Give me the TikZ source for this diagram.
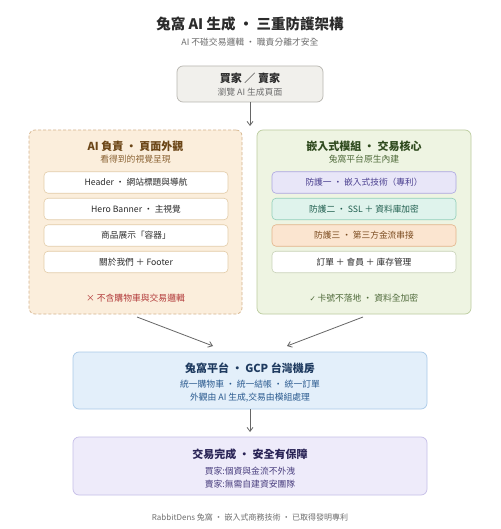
\documentclass[tikz,border=0pt]{standalone}
\usepackage{fontspec}
\setmainfont{Noto Sans CJK TC}
\newfontfamily\symfont{DejaVu Sans}
\usetikzlibrary{arrows.meta}
\definecolor{topfill}{HTML}{F1F0EC}
\definecolor{topdraw}{HTML}{B8B6B0}
\definecolor{lfill}{HTML}{FBEEDC}
\definecolor{ldraw}{HTML}{D6B58E}
\definecolor{linner}{HTML}{E3CCA8}
\definecolor{ltitle}{HTML}{6B4516}
\definecolor{lsub}{HTML}{8A6232}
\definecolor{redt}{HTML}{B23A3A}
\definecolor{rfill}{HTML}{EEF4E2}
\definecolor{rdraw}{HTML}{BBCC9E}
\definecolor{rtitle}{HTML}{2F4A1E}
\definecolor{rsub}{HTML}{4F6A3A}
\definecolor{p1fill}{HTML}{E8E6F8}
\definecolor{p1draw}{HTML}{ABA5E0}
\definecolor{p1text}{HTML}{4A3F8F}
\definecolor{p2fill}{HTML}{DFF3EC}
\definecolor{p2draw}{HTML}{93CFBA}
\definecolor{p2text}{HTML}{1F5E4E}
\definecolor{p3fill}{HTML}{FBE5D0}
\definecolor{p3draw}{HTML}{E2B48A}
\definecolor{p3text}{HTML}{7A4A1E}
\definecolor{p4draw}{HTML}{C8D2B8}
\definecolor{bfill}{HTML}{E3EFFA}
\definecolor{bdraw}{HTML}{AACAE8}
\definecolor{btitle}{HTML}{1E3A5F}
\definecolor{btext}{HTML}{2A5A8F}
\definecolor{vfill}{HTML}{EEEBFA}
\definecolor{vdraw}{HTML}{C6BEE8}
\definecolor{vtitle}{HTML}{2A2456}
\definecolor{vtext}{HTML}{4A3F7F}
\definecolor{arr}{HTML}{666666}
\definecolor{darkt}{HTML}{2B2B2B}
\definecolor{grayt}{HTML}{6E6E6E}
\tikzset{
  box/.style={rectangle, rounded corners=6pt, line width=0.7pt, inner sep=0pt},
  inner/.style={rectangle, rounded corners=4pt, line width=0.6pt, minimum width=184pt, minimum height=21.5pt, inner sep=0pt, font=\fontsize{8.7}{10}\selectfont},
  ttl/.style={font=\fontsize{11}{13}\selectfont\bfseries, inner sep=0pt},
  sub/.style={font=\fontsize{8.8}{10}\selectfont, inner sep=0pt},
  conn/.style={draw=arr, line width=0.8pt, -{Straight Barb[length=4pt,width=6pt]}},
}
\begin{document}
\begin{tikzpicture}[x=1pt,y=-1pt]
\useasboundingbox[fill=white] (0,0) rectangle (500,529);
% title
\node[inner sep=0pt, font=\fontsize{14.5}{17}\selectfont\bfseries, text=darkt] (title) at (250,24) {兔窩 AI 生成 ・ 三重防護架構};
\node[sub, text=grayt] (subtitle) at (250,42) {AI 不碰交易邏輯 ・ 職責分離才安全};
% top box
\node[box, fill=topfill, draw=topdraw, minimum width=146pt, minimum height=36pt] (buyer) at (250,84) {};
\node[ttl, text=darkt] (buyerT) at (250,78.5) {買家 ／ 賣家};
\node[sub, text=grayt] (buyerS) at (250,92) {瀏覽 AI 生成頁面};
\coordinate (splitpt) at (250,126);
\draw[conn] (buyer.south) -- (splitpt);
% left box
\node[box, fill=lfill, draw=ldraw, dashed, dash pattern=on 3pt off 2pt, minimum width=213pt, minimum height=184pt] (left) at (135.5,222) {};
\node[ttl, text=ltitle] (leftT) at (135.5,146) {AI 負責 ・ 頁面外觀};
\node[sub, text=lsub] (leftS) at (135.5,159) {看得到的視覺呈現};
\node[inner, fill=white, draw=linner, text=darkt] (l1) at (136,182.5) {Header ・ 網站標題與導航};
\node[inner, fill=white, draw=linner, text=darkt] (l2) at (136,209) {Hero Banner ・ 主視覺};
\node[inner, fill=white, draw=linner, text=darkt] (l3) at (136,235.5) {商品展示「容器」};
\node[inner, fill=white, draw=linner, text=darkt] (l4) at (136,262) {關於我們 ＋ Footer};
\node[sub, text=redt] (lnote) at (135.5,298) {× 不含購物車與交易邏輯};
% right box
\node[box, fill=rfill, draw=rdraw, minimum width=214pt, minimum height=184pt] (right) at (364,222) {};
\node[ttl, text=rtitle] (rightT) at (364,146) {嵌入式模組 ・ 交易核心};
\node[sub, text=rsub] (rightS) at (364,159) {兔窩平台原生內建};
\node[inner, fill=p1fill, draw=p1draw, text=p1text] (r1) at (364,182.5) {防護一 ・ 嵌入式技術（專利）};
\node[inner, fill=p2fill, draw=p2draw, text=p2text] (r2) at (364,209) {防護二 ・ SSL ＋ 資料庫加密};
\node[inner, fill=p3fill, draw=p3draw, text=p3text] (r3) at (364,235.5) {防護三 ・ 第三方金流串接};
\node[inner, fill=white, draw=p4draw, text=darkt] (r4) at (364,262) {訂單 ＋ 會員 ＋ 庫存管理};
\node[sub, text=rsub] (rnote) at (364,298) {{\symfont\fontsize{7.5}{9}\selectfont ✓}\hspace{1.5pt}卡號不落地 ・ 資料全加密};
% platform
\node[box, fill=bfill, draw=bdraw, minimum width=354pt, minimum height=57pt] (plat) at (250,380.5) {};
\node[ttl, text=btitle] (platT) at (250,368) {兔窩平台 ・ GCP 台灣機房};
\node[sub, text=btext] (platS1) at (250,384) {統一購物車 ・ 統一結帳 ・ 統一訂單};
\node[sub, text=btext] (platS2) at (250,398) {外觀由 AI 生成,交易由模組處理};
\coordinate (la) at (137,317);
\coordinate (lb) at (213,346);
\coordinate (ra) at (363,317);
\coordinate (rb) at (287,346);
\draw[conn] (la) -- (lb);
\draw[conn] (ra) -- (rb);
% final
\coordinate (fend) at (250,432);
\draw[conn] (plat.south) -- (fend);
\node[box, fill=vfill, draw=vdraw, minimum width=354pt, minimum height=58pt] (fin) at (250,466) {};
\node[ttl, text=vtitle] (finT) at (250,454) {交易完成 ・ 安全有保障};
\node[sub, text=vtext] (finS1) at (250,471) {買家:個資與金流不外洩};
\node[sub, text=vtext] (finS2) at (250,484) {賣家:無需自建資安團隊};
% footer
\node[inner sep=0pt, font=\fontsize{8}{10}\selectfont, text=grayt] (foot) at (250,517) {RabbitDens 兔窩 ・ 嵌入式商務技術 ・ 已取得發明專利};
\end{tikzpicture}
\end{document}
